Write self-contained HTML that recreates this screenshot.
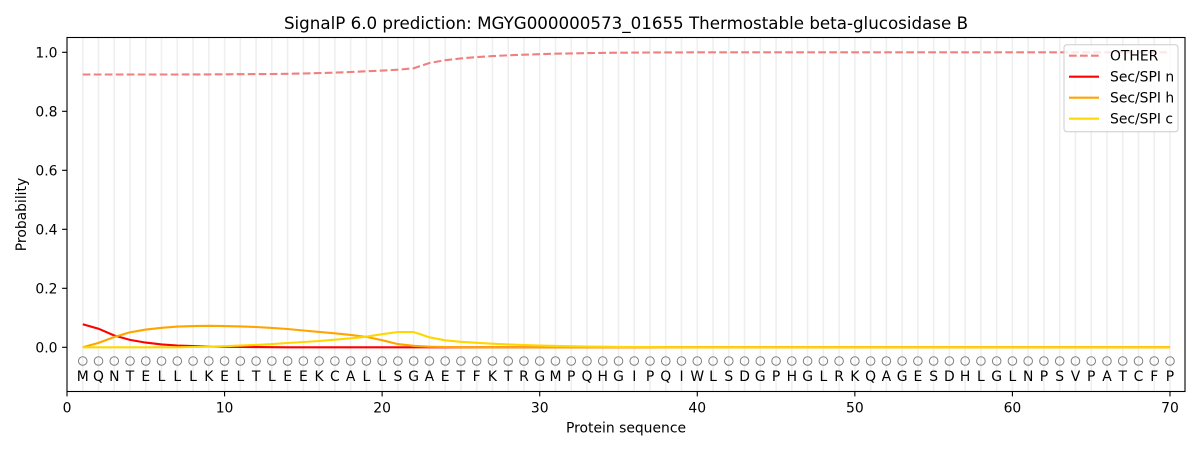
<!DOCTYPE html>
<html><head><meta charset="utf-8"><style>
html,body{margin:0;padding:0;background:#fff;}
svg{display:block;font-family:"DejaVu Sans","Liberation Sans",sans-serif;}
</style></head><body>
<svg width="1200" height="450" viewBox="0 0 1200 450" xmlns="http://www.w3.org/2000/svg">
<rect x="0" y="0" width="1200" height="450" fill="#fff"/>
<!-- grid -->
<path stroke="#efefef" stroke-width="1.6" fill="none" d="M82.76 37.5V391.5M98.51 37.5V391.5M114.27 37.5V391.5M130.03 37.5V391.5M145.79 37.5V391.5M161.54 37.5V391.5M177.30 37.5V391.5M193.06 37.5V391.5M208.81 37.5V391.5M224.57 37.5V391.5M240.33 37.5V391.5M256.08 37.5V391.5M271.84 37.5V391.5M287.60 37.5V391.5M303.36 37.5V391.5M319.11 37.5V391.5M334.87 37.5V391.5M350.63 37.5V391.5M366.38 37.5V391.5M382.14 37.5V391.5M397.90 37.5V391.5M413.65 37.5V391.5M429.41 37.5V391.5M445.17 37.5V391.5M460.93 37.5V391.5M476.68 37.5V391.5M492.44 37.5V391.5M508.20 37.5V391.5M523.95 37.5V391.5M539.71 37.5V391.5M555.47 37.5V391.5M571.22 37.5V391.5M586.98 37.5V391.5M602.74 37.5V391.5M618.50 37.5V391.5M634.25 37.5V391.5M650.01 37.5V391.5M665.77 37.5V391.5M681.52 37.5V391.5M697.28 37.5V391.5M713.04 37.5V391.5M728.79 37.5V391.5M744.55 37.5V391.5M760.31 37.5V391.5M776.07 37.5V391.5M791.82 37.5V391.5M807.58 37.5V391.5M823.34 37.5V391.5M839.09 37.5V391.5M854.85 37.5V391.5M870.61 37.5V391.5M886.36 37.5V391.5M902.12 37.5V391.5M917.88 37.5V391.5M933.64 37.5V391.5M949.39 37.5V391.5M965.15 37.5V391.5M980.91 37.5V391.5M996.66 37.5V391.5M1012.42 37.5V391.5M1028.18 37.5V391.5M1043.93 37.5V391.5M1059.69 37.5V391.5M1075.45 37.5V391.5M1091.21 37.5V391.5M1106.96 37.5V391.5M1122.72 37.5V391.5M1138.48 37.5V391.5M1154.23 37.5V391.5M1169.99 37.5V391.5"/>

<!-- OTHER -->
<polyline fill="none" stroke="#f08080" stroke-width="2.1" stroke-dasharray="7.7,3.3" points="82.76,74.5 98.51,74.5 114.27,74.5 130.03,74.5 145.79,74.5 161.54,74.5 177.30,74.5 193.06,74.4 208.81,74.4 224.57,74.3 240.33,74.2 256.08,74.1 271.84,74.0 287.60,73.8 303.36,73.5 319.11,73.1 334.87,72.6 350.63,72.0 366.38,71.3 382.14,70.6 397.90,69.7 413.65,68.3 429.41,63.0 445.17,60.2 460.93,58.4 476.68,57.1 492.44,56.1 508.20,55.3 523.95,54.7 539.71,54.2 555.47,53.7 571.22,53.4 586.98,53.1 602.74,52.9 618.50,52.7 634.25,52.6 650.01,52.5 665.77,52.4 681.52,52.4 697.28,52.3 1169.99,52.3"/>
<!-- Sec/SPI n -->
<polyline fill="none" stroke="#ff0000" stroke-width="2.1" points="82.76,324.3 98.51,328.7 114.27,335.5 130.03,339.9 145.79,342.6 161.54,344.4 177.30,345.5 193.06,346.1 208.81,346.5 224.57,346.8 240.33,347.0 256.08,347.1 271.84,347.2 287.60,347.3 1169.99,347.3"/>
<!-- Sec/SPI h -->
<polyline fill="none" stroke="#ffa500" stroke-width="2.1" points="82.76,347.3 98.51,342.9 114.27,337.0 130.03,332.3 145.79,329.6 161.54,327.8 177.30,326.6 193.06,326.1 208.81,325.8 224.57,326.1 240.33,326.4 256.08,327.0 271.84,327.9 287.60,329.0 303.36,330.5 319.11,331.9 334.87,333.3 350.63,334.9 366.38,336.9 382.14,340.2 397.90,344.1 413.65,345.8 429.41,346.7 445.17,347.0 460.93,347.2 476.68,347.3 1169.99,347.3"/>
<!-- Sec/SPI c -->
<polyline fill="none" stroke="#ffd700" stroke-width="2.1" points="82.76,347.3 177.30,347.3 193.06,347.0 208.81,346.7 224.57,346.2 240.33,345.6 256.08,344.9 271.84,344.1 287.60,343.0 303.36,342.0 319.11,341.0 334.87,339.7 350.63,338.3 366.38,336.7 382.14,334.2 397.90,332.0 413.65,332.0 429.41,337.3 445.17,340.3 460.93,341.8 476.68,342.8 492.44,343.7 508.20,344.4 523.95,345.0 539.71,345.5 555.47,345.9 571.22,346.2 586.98,346.5 602.74,346.7 618.50,346.9 634.25,347.0 650.01,347.1 665.77,347.2 697.28,347.3 1169.99,347.3"/>

<!-- circles -->
<g fill="none" stroke="#808080" stroke-width="1">
<circle cx="82.76" cy="361" r="4.3"/><circle cx="98.51" cy="361" r="4.3"/><circle cx="114.27" cy="361" r="4.3"/><circle cx="130.03" cy="361" r="4.3"/><circle cx="145.79" cy="361" r="4.3"/><circle cx="161.54" cy="361" r="4.3"/><circle cx="177.30" cy="361" r="4.3"/><circle cx="193.06" cy="361" r="4.3"/><circle cx="208.81" cy="361" r="4.3"/><circle cx="224.57" cy="361" r="4.3"/>
<circle cx="240.33" cy="361" r="4.3"/><circle cx="256.08" cy="361" r="4.3"/><circle cx="271.84" cy="361" r="4.3"/><circle cx="287.60" cy="361" r="4.3"/><circle cx="303.36" cy="361" r="4.3"/><circle cx="319.11" cy="361" r="4.3"/><circle cx="334.87" cy="361" r="4.3"/><circle cx="350.63" cy="361" r="4.3"/><circle cx="366.38" cy="361" r="4.3"/><circle cx="382.14" cy="361" r="4.3"/>
<circle cx="397.90" cy="361" r="4.3"/><circle cx="413.65" cy="361" r="4.3"/><circle cx="429.41" cy="361" r="4.3"/><circle cx="445.17" cy="361" r="4.3"/><circle cx="460.93" cy="361" r="4.3"/><circle cx="476.68" cy="361" r="4.3"/><circle cx="492.44" cy="361" r="4.3"/><circle cx="508.20" cy="361" r="4.3"/><circle cx="523.95" cy="361" r="4.3"/><circle cx="539.71" cy="361" r="4.3"/>
<circle cx="555.47" cy="361" r="4.3"/><circle cx="571.22" cy="361" r="4.3"/><circle cx="586.98" cy="361" r="4.3"/><circle cx="602.74" cy="361" r="4.3"/><circle cx="618.50" cy="361" r="4.3"/><circle cx="634.25" cy="361" r="4.3"/><circle cx="650.01" cy="361" r="4.3"/><circle cx="665.77" cy="361" r="4.3"/><circle cx="681.52" cy="361" r="4.3"/><circle cx="697.28" cy="361" r="4.3"/>
<circle cx="713.04" cy="361" r="4.3"/><circle cx="728.79" cy="361" r="4.3"/><circle cx="744.55" cy="361" r="4.3"/><circle cx="760.31" cy="361" r="4.3"/><circle cx="776.07" cy="361" r="4.3"/><circle cx="791.82" cy="361" r="4.3"/><circle cx="807.58" cy="361" r="4.3"/><circle cx="823.34" cy="361" r="4.3"/><circle cx="839.09" cy="361" r="4.3"/><circle cx="854.85" cy="361" r="4.3"/>
<circle cx="870.61" cy="361" r="4.3"/><circle cx="886.36" cy="361" r="4.3"/><circle cx="902.12" cy="361" r="4.3"/><circle cx="917.88" cy="361" r="4.3"/><circle cx="933.64" cy="361" r="4.3"/><circle cx="949.39" cy="361" r="4.3"/><circle cx="965.15" cy="361" r="4.3"/><circle cx="980.91" cy="361" r="4.3"/><circle cx="996.66" cy="361" r="4.3"/><circle cx="1012.42" cy="361" r="4.3"/>
<circle cx="1028.18" cy="361" r="4.3"/><circle cx="1043.93" cy="361" r="4.3"/><circle cx="1059.69" cy="361" r="4.3"/><circle cx="1075.45" cy="361" r="4.3"/><circle cx="1091.21" cy="361" r="4.3"/><circle cx="1106.96" cy="361" r="4.3"/><circle cx="1122.72" cy="361" r="4.3"/><circle cx="1138.48" cy="361" r="4.3"/><circle cx="1154.23" cy="361" r="4.3"/><circle cx="1169.99" cy="361" r="4.3"/>
</g>

<!-- letters -->
<g font-size="13.9" fill="#000" text-anchor="middle">
<text x="82.76" y="381">M</text><text x="98.51" y="381">Q</text><text x="114.27" y="381">N</text><text x="130.03" y="381">T</text><text x="145.79" y="381">E</text><text x="161.54" y="381">L</text><text x="177.30" y="381">L</text><text x="193.06" y="381">L</text><text x="208.81" y="381">K</text><text x="224.57" y="381">E</text>
<text x="240.33" y="381">L</text><text x="256.08" y="381">T</text><text x="271.84" y="381">L</text><text x="287.60" y="381">E</text><text x="303.36" y="381">E</text><text x="319.11" y="381">K</text><text x="334.87" y="381">C</text><text x="350.63" y="381">A</text><text x="366.38" y="381">L</text><text x="382.14" y="381">L</text>
<text x="397.90" y="381">S</text><text x="413.65" y="381">G</text><text x="429.41" y="381">A</text><text x="445.17" y="381">E</text><text x="460.93" y="381">T</text><text x="476.68" y="381">F</text><text x="492.44" y="381">K</text><text x="508.20" y="381">T</text><text x="523.95" y="381">R</text><text x="539.71" y="381">G</text>
<text x="555.47" y="381">M</text><text x="571.22" y="381">P</text><text x="586.98" y="381">Q</text><text x="602.74" y="381">H</text><text x="618.50" y="381">G</text><text x="634.25" y="381">I</text><text x="650.01" y="381">P</text><text x="665.77" y="381">Q</text><text x="681.52" y="381">I</text><text x="697.28" y="381">W</text>
<text x="713.04" y="381">L</text><text x="728.79" y="381">S</text><text x="744.55" y="381">D</text><text x="760.31" y="381">G</text><text x="776.07" y="381">P</text><text x="791.82" y="381">H</text><text x="807.58" y="381">G</text><text x="823.34" y="381">L</text><text x="839.09" y="381">R</text><text x="854.85" y="381">K</text>
<text x="870.61" y="381">Q</text><text x="886.36" y="381">A</text><text x="902.12" y="381">G</text><text x="917.88" y="381">E</text><text x="933.64" y="381">S</text><text x="949.39" y="381">D</text><text x="965.15" y="381">H</text><text x="980.91" y="381">L</text><text x="996.66" y="381">G</text><text x="1012.42" y="381">L</text>
<text x="1028.18" y="381">N</text><text x="1043.93" y="381">P</text><text x="1059.69" y="381">S</text><text x="1075.45" y="381">V</text><text x="1091.21" y="381">P</text><text x="1106.96" y="381">A</text><text x="1122.72" y="381">T</text><text x="1138.48" y="381">C</text><text x="1154.23" y="381">F</text><text x="1169.99" y="381">P</text>
</g>

<!-- axes frame -->
<rect x="67" y="37.5" width="1118" height="354" fill="none" stroke="#000" stroke-width="1.1"/>

<!-- y ticks -->
<g stroke="#000" stroke-width="1.1">
<path d="M62.1 347.3H67M62.1 288.3H67M62.1 229.3H67M62.1 170.3H67M62.1 111.3H67M62.1 52.3H67"/>
<path d="M67 391.5V396.4M224.57 391.5V396.4M382.14 391.5V396.4M539.71 391.5V396.4M697.28 391.5V396.4M854.85 391.5V396.4M1012.42 391.5V396.4M1169.99 391.5V396.4"/>
</g>
<g font-size="13.9" fill="#000" text-anchor="end">
<text x="57.5" y="352.3">0.0</text>
<text x="57.5" y="293.3">0.2</text>
<text x="57.5" y="234.3">0.4</text>
<text x="57.5" y="175.3">0.6</text>
<text x="57.5" y="116.3">0.8</text>
<text x="57.5" y="57.3">1.0</text>
</g>
<g font-size="13.9" fill="#000" text-anchor="middle">
<text x="67" y="412.3">0</text>
<text x="224.57" y="412.3">10</text>
<text x="382.14" y="412.3">20</text>
<text x="539.71" y="412.3">30</text>
<text x="697.28" y="412.3">40</text>
<text x="854.85" y="412.3">50</text>
<text x="1012.42" y="412.3">60</text>
<text x="1169.99" y="412.3">70</text>
<text x="626" y="432.3">Protein sequence</text>
<text transform="translate(26,214.5) rotate(-90)" x="0" y="0">Probability</text>
</g>

<!-- title -->
<text x="626" y="29" font-size="16.7" text-anchor="middle" fill="#000">SignalP 6.0 prediction: MGYG000000573_01655 Thermostable beta-glucosidase B</text>

<!-- legend -->
<rect x="1064" y="44.7" width="114" height="87" rx="2.8" ry="2.8" fill="#fff" fill-opacity="0.8" stroke="#cccccc" stroke-width="1"/>
<line x1="1069" y1="55.7" x2="1099" y2="55.7" stroke="#f08080" stroke-width="2.1" stroke-dasharray="7.7,3.3"/>
<line x1="1069" y1="76.7" x2="1099" y2="76.7" stroke="#ff0000" stroke-width="2.1"/>
<line x1="1069" y1="97.7" x2="1099" y2="97.7" stroke="#ffa500" stroke-width="2.1"/>
<line x1="1069" y1="118.7" x2="1099" y2="118.7" stroke="#ffd700" stroke-width="2.1"/>
<g font-size="13.9" fill="#000">
<text x="1110" y="60.7">OTHER</text>
<text x="1110" y="81.7">Sec/SPI n</text>
<text x="1110" y="102.7">Sec/SPI h</text>
<text x="1110" y="123.7">Sec/SPI c</text>
</g>
</svg>
</body></html>
